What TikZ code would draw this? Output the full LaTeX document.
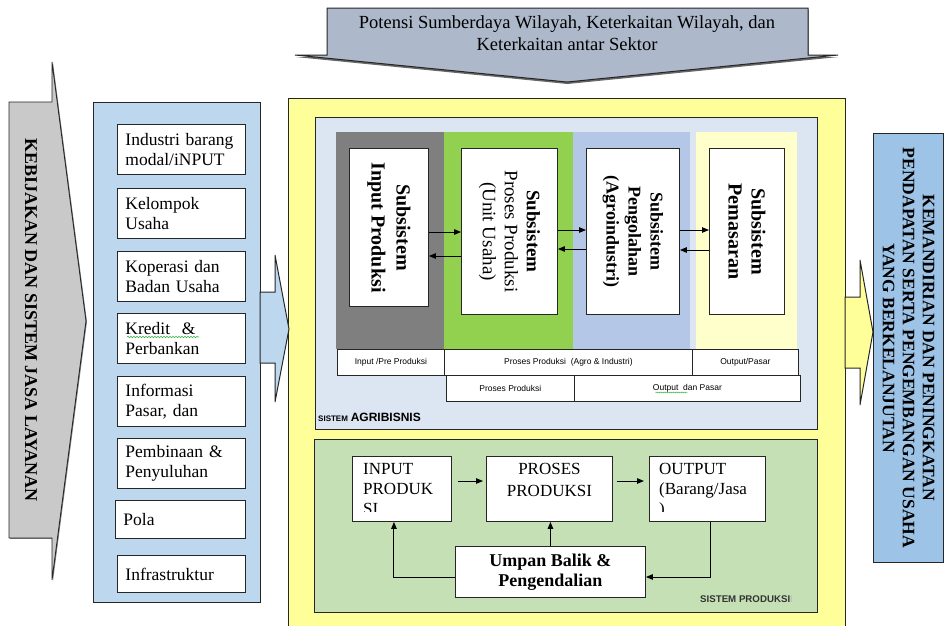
\documentclass[tikz,border=0pt]{standalone}
\usepackage{fontspec}
\setmainfont{Liberation Serif}
\newfontfamily\arialf{Liberation Sans}
\usetikzlibrary{arrows.meta,shadows,decorations.pathmorphing}

\definecolor{topgray}{HTML}{ADB9CA}
\definecolor{leftgray}{HTML}{C9C9C9}
\definecolor{listblue}{HTML}{BDD7EE}
\definecolor{mainyellow}{HTML}{FFFF99}
\definecolor{agriblue}{HTML}{DCE6F2}
\definecolor{colgray}{HTML}{7F7F7F}
\definecolor{colgreen}{HTML}{92D050}
\definecolor{colblue}{HTML}{B4C7E7}
\definecolor{colyellow}{HTML}{FFFFCC}
\definecolor{prodgreen}{HTML}{C5E0B4}
\definecolor{goalblue}{HTML}{9DC3E6}
\definecolor{edge}{HTML}{262626}
\definecolor{spellgreen}{HTML}{3CB043}

\begin{document}
\begin{tikzpicture}[x=1pt, y=-1pt,
  box/.style={draw=edge, line width=0.9pt},
  listbox/.style={box, fill=white, anchor=north west, minimum width=128pt,
    minimum height=50pt, inner xsep=8pt, text width=112pt, align=left,
    font=\fontsize{17.5}{20}\selectfont},
  subbox/.style={box, fill=white, anchor=north west},
  sublabel/.style={rotate=-90, align=center, inner sep=0pt},
  cell/.style={draw=edge, line width=0.8pt, fill=white, anchor=north west,
    minimum height=26pt, inner sep=0pt, font=\arialf\fontsize{8.5}{10}\selectfont},
  flow/.style={line width=1pt, -{Triangle[length=7pt,width=5.5pt]}},
  prodbox/.style={box, fill=white, anchor=north west, minimum height=65pt},
  prodtext/.style={anchor=north west, align=left, inner sep=0pt,
    font=\fontsize{17}{20}\selectfont},
  spell/.style={draw=spellgreen, line width=0.6pt, decorate,
    decoration={snake, amplitude=0.7pt, segment length=3pt}},
  smallspell/.style={draw=spellgreen, line width=0.5pt, decorate,
    decoration={snake, amplitude=0.5pt, segment length=2pt}},
  blockarrow/.style={draw=edge, line width=1pt},
]
\useasboundingbox (0,0) rectangle (945,625);

% ---------- top block arrow ----------
\path[draw=edge, line width=1pt, fill=topgray,
  drop shadow={shadow xshift=0.5pt, shadow yshift=-2pt, opacity=0.6, fill=black}]
  (327,8) -- (808,8) -- (808,55) -- (838,55) -- (567,82) -- (295,55) -- (327,55) -- cycle;
\node[align=center, font=\fontsize{18.5}{22}\selectfont] (potensi) at (567,33)
  {Potensi Sumberdaya Wilayah, Keterkaitan Wilayah, dan\\Keterkaitan antar Sektor};

% ---------- left block arrow ----------
\path[draw=edge, line width=0.9pt, fill=leftgray,
  drop shadow={shadow xshift=1pt, shadow yshift=-0.8pt, opacity=0.5, fill=black}]
  (9,102) -- (52,102) -- (52,62) -- (86,321) -- (52,580) -- (52,538) -- (9,538) -- cycle;
\node[rotate=-90, font=\bfseries\fontsize{18}{20}\selectfont] (kebijakan) at (31,320)
  {KEBIJAKAN DAN SISTEM JASA LAYANAN};

% ---------- supporting services ----------
\node[box, fill=listblue, anchor=north west, minimum width=167pt, minimum height=500pt]
  (services) at (93,102) {};
\node[listbox] (l1) at (117,124) {Industri barang\\modal/iNPUT};
\node[listbox] (l2) at (117,188) {Kelompok\\Usaha};
\node[listbox] (l3) at (117,251) {Koperasi dan\\Badan Usaha};
\node[listbox] (l4) at (117,313) {Kredit \ \&\\Perbankan};
\node[listbox] (l5) at (117,376) {Informasi\\Pasar, dan};
\node[listbox] (l6) at (117,438) {Pembinaan \&\\Penyuluhan};
\node[listbox, minimum width=130pt, text width=114pt, minimum height=38pt] (l7) at (115,500) {Pola};
\node[listbox, minimum height=37pt] (l8) at (117,555) {Infrastruktur};
\path[spell] ([shift={(10,24)}]l4.north west) -- ([shift={(82,24)}]l4.north west);

% ---------- main container ----------
\path[draw=edge, line width=1pt, fill=mainyellow] (288,98) rectangle (845,640);

% arrow from services into the container
\path[blockarrow, fill=listblue]
  (260,292) -- (275,292) -- (275,255) -- (289,329) -- (275,402) -- (275,363) -- (260,363) -- cycle;

% ---------- agribusiness system ----------
\node[box, fill=agriblue, anchor=north west, minimum width=502pt, minimum height=312pt]
  (agri) at (315,117) {};
\fill[colgray]   (336,132) rectangle (444,349);
\fill[colgreen]  (444,132) rectangle (573,349);
\fill[colblue]   (573,132) rectangle (690,349);
\fill[colyellow] (696,132) rectangle (797,349);

\node[subbox, minimum width=79pt, minimum height=158pt] (inp) at (349,148) {};
\node[subbox, minimum width=96pt, minimum height=166pt] (pro) at (461,148) {};
\node[subbox, minimum width=93pt, minimum height=166pt] (pen) at (586,148) {};
\node[subbox, minimum width=75pt, minimum height=166pt] (pem) at (709,148) {};

\node[sublabel, font=\bfseries\fontsize{20}{25}\selectfont] (inplabel) at (inp.center)
  {Subsistem\\Input Produksi};
\node[sublabel, font=\fontsize{19}{22}\selectfont] (prolabel) at (pro.center)
  {\textbf{Subsistem}\\Proses Produksi\\(Unit Usaha)};
\node[sublabel, font=\bfseries\fontsize{18}{22}\selectfont] (penlabel) at (pen.center)
  {Subsistem\\Pengolahan\\(Agroindustri)};
\node[sublabel, font=\bfseries\fontsize{20}{23}\selectfont] (pemlabel) at (pem.center)
  {Subsistem\\Pemasaran};

\draw[flow] (inp.east |- 0,232) -- (pro.west |- 0,232);
\draw[flow] (pro.west |- 0,256) -- (inp.east |- 0,256);
\draw[flow] (pro.east |- 0,230) -- (pen.west |- 0,230);
\draw[flow] (pen.west |- 0,249) -- (pro.east |- 0,249);
\draw[flow] (pen.east |- 0,230) -- (pem.west |- 0,230);
\draw[flow] (pem.west |- 0,250) -- (pen.east |- 0,250);

\node[cell, minimum width=107pt] (c11) at (337,349) {Input /Pre Produksi};
\node[cell, minimum width=248pt] (c12) at (444,349) {Proses Produksi \ (Agro \& Industri)};
\node[cell, minimum width=106pt] (c13) at (692,349) {Output/Pasar};
\node[cell, minimum width=128pt] (c21) at (446,375) {Proses Produksi};
\node[cell, minimum width=226pt] (c22) at (574,375) {Output \ dan Pasar};
\path[smallspell] ([shift={(-32,4)}]c22.center) -- ([shift={(0,4)}]c22.center);

\node[anchor=west, inner sep=0pt, font=\arialf\bfseries] (agrilabel) at (318,417)
  {{\fontsize{8}{9}\selectfont SISTEM} {\fontsize{12}{13}\selectfont AGRIBISNIS}};

% ---------- production system ----------
\node[box, fill=prodgreen, anchor=north west, minimum width=503pt, minimum height=173pt]
  (prod) at (314,439) {};
\node[prodbox, minimum width=99pt] (pin) at (352,456) {};
\node[prodbox, minimum width=126pt] (ppr) at (486,456) {};
\node[prodbox, minimum width=116pt] (pout) at (649,456) {};
\node[box, fill=white, anchor=north west, minimum width=190pt, minimum height=51pt,
  align=center, font=\bfseries\fontsize{18}{20}\selectfont] (umpan) at (455,546)
  {Umpan Balik \&\\Pengendalian};

\begin{scope}
  \clip (pin.north west) rectangle ([yshift=10pt]pin.south east);
  \node[prodtext] (pintext) at ([shift={(11,7)}]pin.north west) {INPUT\\PRODUK\\SI};
\end{scope}
\begin{scope}
  \clip (pout.north west) rectangle ([yshift=10pt]pout.south east);
  \node[prodtext] (pouttext) at ([shift={(10,7)}]pout.north west) {OUTPUT\\(Barang/Jasa\\)};
\end{scope}
\node[anchor=north, align=center, inner sep=0pt, font=\fontsize{17}{22}\selectfont]
  (pprtext) at ([yshift=-7pt]ppr.north) {PROSES\\PRODUKSI};

\draw[flow, shorten <=6pt, shorten >=3pt] (pin.east |- 0,481) -- (ppr.west |- 0,481);
\draw[flow, shorten <=4pt, shorten >=5pt] (ppr.east |- 0,481) -- (pout.west |- 0,481);
\draw[flow] (umpan.north) -- (umpan.north |- ppr.south);
\draw[flow] (umpan.west |- 0,577) -| ([xshift=-8pt]pin.south);
\draw[flow] ([xshift=3pt]pout.south) |- (umpan.east |- 0,577);

\node[anchor=west, inner sep=0pt, font=\arialf\bfseries\fontsize{9.7}{11}\selectfont,
  text=black!80] (prodlabel) at (700,599) {SISTEM PRODUKSI\textcolor{black!25}{I}};

% ---------- output arrow and goal ----------
\path[blockarrow, fill=mainyellow]
  (845,297) -- (860,297) -- (860,260) -- (873,332) -- (860,405) -- (860,368) -- (845,368) -- cycle;
\node[box, fill=goalblue, anchor=north west, minimum width=70pt, minimum height=429pt]
  (goal) at (873,133) {};
\node[rotate=-90, align=center, font=\bfseries\fontsize{17.5}{20}\selectfont] (goaltext)
  at (goal.center)
  {KEMANDIRIAN DAN PENINGKATAN\\PENDAPATAN SERTA PENGEMBANGAN USAHA\\YANG BERKELANJUTAN};
\end{tikzpicture}
\end{document}
